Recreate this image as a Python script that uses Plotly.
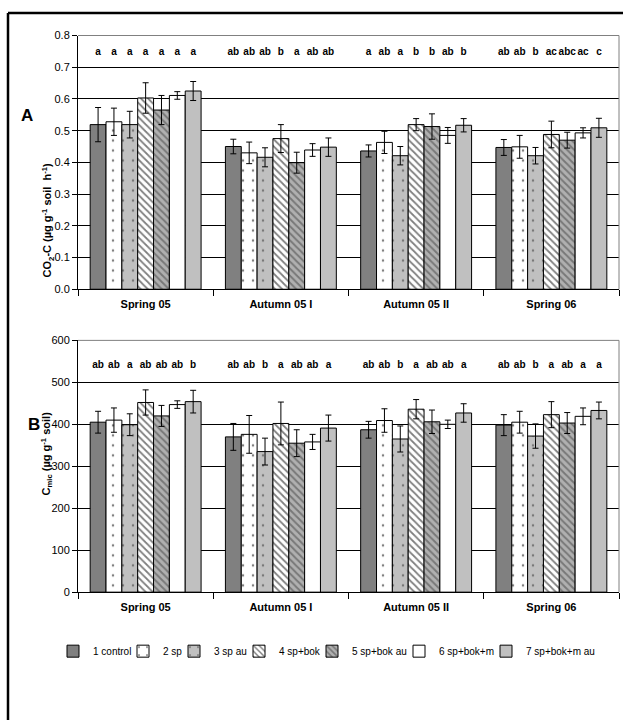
import plotly.graph_objects as go

categories = ["Spring 05", "Autumn 05 I", "Autumn 05 II", "Spring 06"]
treatments = ["1 control", "2 sp", "3 sp au", "4 sp+bok", "5 sp+bok au", "6 sp+bok+m", "7 sp+bok+m au"]

# Panel A: CO2-C (µg g-1 soil h-1), per treatment across categories
co2_t1 = [0.519, 0.450, 0.436, 0.447]
co2_t2 = [0.528, 0.430, 0.463, 0.449]
co2_t3 = [0.519, 0.416, 0.421, 0.421]
co2_t4 = [0.603, 0.475, 0.519, 0.488]
co2_t5 = [0.565, 0.399, 0.513, 0.470]
co2_t6 = [0.611, 0.439, 0.485, 0.493]
co2_t7 = [0.625, 0.448, 0.517, 0.509]
co2_e1 = [0.054, 0.023, 0.019, 0.025]
co2_e2 = [0.043, 0.034, 0.035, 0.036]
co2_e3 = [0.042, 0.030, 0.029, 0.026]
co2_e4 = [0.048, 0.044, 0.019, 0.042]
co2_e5 = [0.046, 0.033, 0.040, 0.025]
co2_e6 = [0.012, 0.020, 0.025, 0.016]
co2_e7 = [0.030, 0.029, 0.021, 0.030]

# Panel B: Cmic (µg g-1 soil)
cmic_t1 = [405, 370, 387, 398]
cmic_t2 = [410, 376, 409, 405]
cmic_t3 = [399, 335, 365, 372]
cmic_t4 = [452, 402, 436, 423]
cmic_t5 = [420, 355, 406, 403]
cmic_t6 = [447, 358, 400, 419]
cmic_t7 = [454, 391, 427, 433]
cmic_e1 = [26, 32, 20, 25]
cmic_e2 = [29, 45, 28, 26]
cmic_e3 = [26, 32, 31, 29]
cmic_e4 = [30, 51, 23, 31]
cmic_e5 = [25, 32, 28, 25]
cmic_e6 = [9, 18, 10, 20]
cmic_e7 = [27, 31, 22, 20]

# significance letters, per category (treatments 1..7)
letters_a_spring05 = ["a", "a", "a", "a", "a", "a", "a"]
letters_a_autumn05i = ["ab", "ab", "ab", "b", "a", "ab", "ab"]
letters_a_autumn05ii = ["a", "ab", "a", "b", "b", "ab", "b"]
letters_a_spring06 = ["ab", "ab", "b", "ac", "abc", "ac", "c"]
letters_b_spring05 = ["ab", "ab", "a", "ab", "ab", "ab", "b"]
letters_b_autumn05i = ["ab", "ab", "b", "a", "ab", "ab", "a"]
letters_b_autumn05ii = ["ab", "ab", "b", "a", "ab", "ab", "a"]
letters_b_spring06 = ["ab", "ab", "b", "a", "ab", "a", "a"]

letter_level_a = 0.745
letter_level_b = 541

co2_means = [co2_t1, co2_t2, co2_t3, co2_t4, co2_t5, co2_t6, co2_t7]
co2_errs = [co2_e1, co2_e2, co2_e3, co2_e4, co2_e5, co2_e6, co2_e7]
cmic_means = [cmic_t1, cmic_t2, cmic_t3, cmic_t4, cmic_t5, cmic_t6, cmic_t7]
cmic_errs = [cmic_e1, cmic_e2, cmic_e3, cmic_e4, cmic_e5, cmic_e6, cmic_e7]
letters_a = [letters_a_spring05, letters_a_autumn05i, letters_a_autumn05ii, letters_a_spring06]
letters_b = [letters_b_spring05, letters_b_autumn05i, letters_b_autumn05ii, letters_b_spring06]

styles = [
    dict(color="#808080", pattern=None),
    dict(color="#ffffff", pattern=dict(shape=".", fgcolor="#000000", bgcolor="#ffffff", size=10, solidity=0.05, fillmode="overlay")),
    dict(color="#c0c0c0", pattern=dict(shape=".", fgcolor="#303030", bgcolor="#c0c0c0", size=10, solidity=0.05, fillmode="overlay")),
    dict(color="#ffffff", pattern=dict(shape="\\", fgcolor="#000000", bgcolor="#ffffff", size=5, solidity=0.35, fillmode="overlay")),
    dict(color="#b0b0b0", pattern=dict(shape="\\", fgcolor="#404040", bgcolor="#b0b0b0", size=5, solidity=0.4, fillmode="overlay")),
    dict(color="#ffffff", pattern=None),
    dict(color="#c0c0c0", pattern=None),
]

FONT = "Liberation Sans, Arial, sans-serif"
W, H = 623, 726

# legend layout (one legend box per entry so the row is as compact as the original)
legend_left_px = [53, 123, 174, 239, 312, 399, 486]
legend_center_y_px = 656

fig = go.Figure()

for panel, (means, errs, letters, lvl, xa, ya) in enumerate([
    (co2_means, co2_errs, letters_a, letter_level_a, "x", "y"),
    (cmic_means, cmic_errs, letters_b, letter_level_b, "x2", "y2"),
]):
    for i, name in enumerate(treatments):
        st = styles[i]
        marker = dict(color=st["color"], line=dict(color="#000000", width=1))
        if st["pattern"] is not None:
            marker["pattern"] = st["pattern"]
        fig.add_trace(go.Bar(
            x=categories, y=means[i], name=name, marker=marker,
            error_y=dict(type="data", array=errs[i], visible=True, color="#000000", thickness=1, width=3),
            xaxis=xa, yaxis=ya, legendgroup=name, showlegend=(panel == 0),
            legend="legend" if i == 0 else f"legend{i + 1}",
        ))
    for i, name in enumerate(treatments):
        fig.add_trace(go.Scatter(
            x=categories, y=[lvl] * len(categories), mode="text",
            text=[letters[c][i] for c in range(len(categories))],
            textfont=dict(family=FONT, size=10, color="#000000"),
            texttemplate="<b>%{text}</b>",
            xaxis=xa, yaxis=ya, showlegend=False, hoverinfo="skip",
        ))

x0, x1 = 78 / W, 619 / W

xaxis_common = dict(
    domain=[x0, x1], showline=True, linecolor="#000000", linewidth=1,
    ticks="outside", tickson="boundaries", ticklen=6, tickcolor="#000000",
    tickfont=dict(family=FONT, size=11, color="#000000"), showgrid=False,
    ticklabelstandoff=5,
)
yaxis_common = dict(
    showline=True, linecolor="#000000", linewidth=1, ticks="outside", ticklen=5,
    tickcolor="#000000", tickfont=dict(family=FONT, size=11, color="#000000"),
    showgrid=True, gridcolor="#000000", gridwidth=1, zeroline=False,
)

legends = {}
for i in range(len(treatments)):
    key = "legend" if i == 0 else f"legend{i + 1}"
    legends[key] = dict(
        orientation="h", x=legend_left_px[i] / W, xanchor="left",
        y=1 - legend_center_y_px / H, yanchor="middle",
        font=dict(family=FONT, size=10, color="#000000"), itemwidth=30,
        bgcolor="rgba(0,0,0,0)", borderwidth=0,
    )

fig.update_layout(
    width=W, height=H, margin=dict(l=0, r=0, t=0, b=0, pad=0),
    paper_bgcolor="#ffffff", plot_bgcolor="#ffffff",
    barmode="group", bargap=0.18, bargroupgap=0, scattermode="group", scattergap=0.18,
    font=dict(family=FONT, size=11, color="#000000"),
    xaxis=dict(xaxis_common, anchor="y", tickvals=categories,
               ticktext=["<b>" + c + "</b>" for c in categories]),
    xaxis2=dict(xaxis_common, anchor="y2", tickvals=categories,
                ticktext=["<b>" + c + "</b>" for c in categories]),
    yaxis=dict(yaxis_common, domain=[1 - 288 / H, 1 - 30 / H], anchor="x",
               range=[0, 0.8], dtick=0.1, tickformat=".1f"),
    yaxis2=dict(yaxis_common, domain=[1 - 596 / H, 1 - 340 / H], anchor="x2",
                range=[0, 600], dtick=100),
    showlegend=True,
    **legends,
)

# gray plot-area frame edges (top and right), outer figure frame
for xr, yr in [("x domain", "y domain"), ("x2 domain", "y2 domain")]:
    fig.add_shape(type="line", xref=xr, yref=yr, x0=0, x1=1, y0=1, y1=1,
                  line=dict(color="#808080", width=1), layer="above")
    fig.add_shape(type="line", xref=xr, yref=yr, x0=1, x1=1, y0=0, y1=1,
                  line=dict(color="#808080", width=1), layer="above")
fig.add_shape(type="line", xref="paper", yref="paper", x0=8 / W, x1=8 / W, y0=0, y1=1 - 7 / H,
              line=dict(color="#000000", width=2.5))
fig.add_shape(type="line", xref="paper", yref="paper", x0=8 / W, x1=1, y0=1 - 7 / H, y1=1 - 7 / H,
              line=dict(color="#000000", width=2.5))

# axis titles and panel labels
fig.add_annotation(xref="paper", yref="paper", x=38 / W, y=1 - 158 / H, textangle=-90,
                   showarrow=False, font=dict(family=FONT, size=11, color="#000000"),
                   text="<b>CO<sub>2</sub>-C (µg g<sup>-1</sup> soil  h<sup>-1</sup>)</b>")
fig.add_annotation(xref="paper", yref="paper", x=37 / W, y=1 - 455 / H, textangle=-90,
                   showarrow=False, font=dict(family=FONT, size=11, color="#000000"),
                   text="<b>C<sub>mic</sub> (µg g<sup>-1</sup> soil)</b>")
fig.add_annotation(xref="paper", yref="paper", x=19 / W, y=1 - 100 / H, showarrow=False,
                   font=dict(family=FONT, size=17, color="#000000"), text="<b>A</b>")
fig.add_annotation(xref="paper", yref="paper", x=26 / W, y=1 - 426 / H, showarrow=False,
                   font=dict(family=FONT, size=17, color="#000000"), text="<b>B</b>")

fig.write_html("out.html", config={"displayModeBar": False},
               post_script="document.body.style.margin='0px';document.body.style.overflow='hidden';")
